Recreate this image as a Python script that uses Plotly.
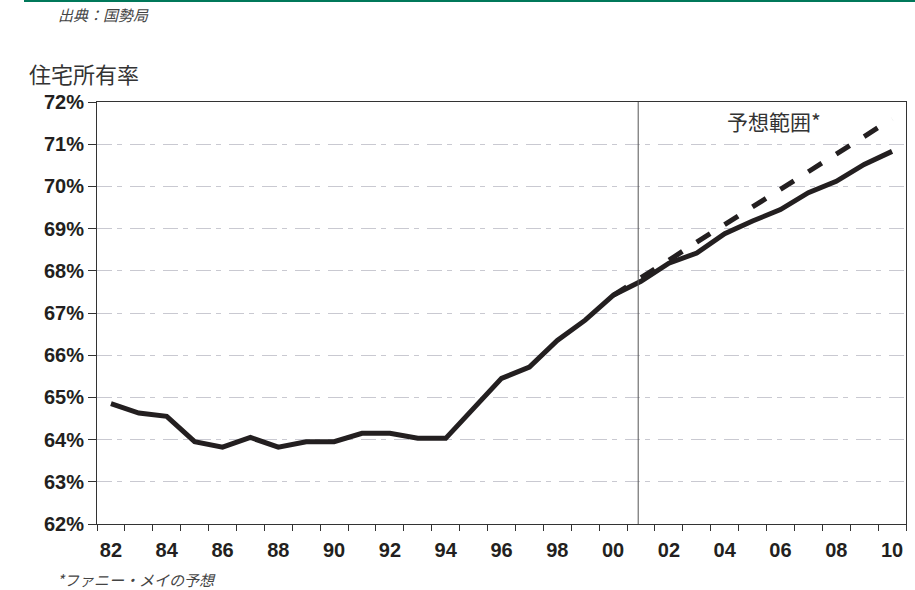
import plotly.graph_objects as go

# ---- data ----
years = list(range(1982, 2011))
ownership_rate = [64.85, 64.63, 64.55, 63.95, 63.82, 64.05, 63.82, 63.95, 63.95, 64.15,
                  64.15, 64.03, 64.03, 64.75, 65.45, 65.72, 66.35, 66.83, 67.42, 67.75,
                  68.18, 68.42, 68.88, 69.18, 69.45, 69.85, 70.12, 70.52, 70.83]
forecast_years = list(range(2000, 2011))
forecast_rate = [67.42, 67.82, 68.25, 68.68, 69.10, 69.50, 69.93, 70.35, 70.78, 71.20, 71.60]
x_tick_vals = list(range(1982, 2011, 2))
x_tick_text = ["82", "84", "86", "88", "90", "92", "94", "96", "98", "00", "02", "04", "06", "08", "10"]
y_tick_vals = list(range(62, 73))
forecast_start = 2000.9

title_text = "住宅所有率"
source_text = "出典：国勢局"
forecast_label = "予想範囲*"
footnote_text = "*ファニー・メイの予想"

INK = "#231f20"
AXIS = "#333333"
GRID = "#c9c9d1"
CJK = "Noto Sans CJK JP"
NUM = "Liberation Sans, Arial"

W, H = 915, 590
L, R, T, B = 97, 9, 102, 66
PW, PH = W - L - R, H - T - B


def px(x):
    return (x - L) / PW


def py(y):
    return (H - B - y) / PH


fig = go.Figure()
fig.add_trace(go.Scatter(x=forecast_years, y=forecast_rate, mode="lines",
                         line=dict(color=INK, width=5, dash="16px,17px"),
                         hoverinfo="skip", showlegend=False))
fig.add_trace(go.Scatter(x=years, y=ownership_rate, mode="lines",
                         line=dict(color=INK, width=5),
                         showlegend=False))

fig.update_layout(
    width=W, height=H,
    margin=dict(l=L, r=R, t=T, b=B),
    paper_bgcolor="white", plot_bgcolor="white",
    showlegend=False,
)

fig.update_xaxes(
    range=[1981.5, 2010.5],
    tickmode="array", tickvals=x_tick_vals, ticktext=x_tick_text,
    ticks="outside", ticklen=8, tickcolor="rgba(0,0,0,0)",
    minor=dict(tickmode="linear", tick0=1981.5, dtick=1, ticks="outside",
               ticklen=6, tickcolor=AXIS, showgrid=False),
    tickfont=dict(family=NUM, size=20, color=INK, weight="bold"),
    showgrid=False, zeroline=False,
    showline=True, linecolor=AXIS, linewidth=1, mirror=True,
)
fig.update_yaxes(
    range=[62, 72],
    tickmode="array", tickvals=y_tick_vals,
    ticktext=[f"{v}%" for v in y_tick_vals],
    ticks="outside", ticklen=8, tickcolor=AXIS,
    tickfont=dict(family=NUM, size=20, color=INK, weight="bold"),
    showgrid=True, gridcolor=GRID, gridwidth=1, griddash="15px,5px,5px,8px",
    zeroline=False,
    showline=True, linecolor=AXIS, linewidth=1, mirror=True,
)

# forecast divider
fig.add_shape(type="line", xref="x", yref="y", x0=forecast_start, x1=forecast_start,
              y0=62, y1=72, line=dict(color="#555555", width=1))
# top green rule
fig.add_shape(type="line", xref="paper", yref="paper", x0=px(24), x1=px(W),
              ysizemode="pixel", yanchor=1, y0=T - 1, y1=T - 1,
              line=dict(color="#00785a", width=2))

fig.add_annotation(text=title_text, xref="paper", yref="paper", x=px(27), y=py(73),
                   xanchor="left", yanchor="middle", showarrow=False,
                   font=dict(family=CJK, size=22, color="#333333"))
fig.add_annotation(text=f"<i>{source_text}</i>", xref="paper", yref="paper", x=px(56), y=py(15),
                   xanchor="left", yanchor="middle", showarrow=False,
                   font=dict(family=CJK, size=15, color="#444444"))
fig.add_annotation(text=forecast_label, xref="paper", yref="paper", x=px(774), y=py(121),
                   xanchor="center", yanchor="middle", showarrow=False,
                   font=dict(family=CJK, size=21, color="#333333"))
fig.add_annotation(text=f"<i>{footnote_text}</i>", xref="paper", yref="paper", x=px(55), y=py(579),
                   xanchor="left", yanchor="middle", showarrow=False,
                   font=dict(family=CJK, size=15, color="#444444"))

fig.write_html("out.html", config={"displayModeBar": False},
               post_script="document.body.style.margin='0';")
